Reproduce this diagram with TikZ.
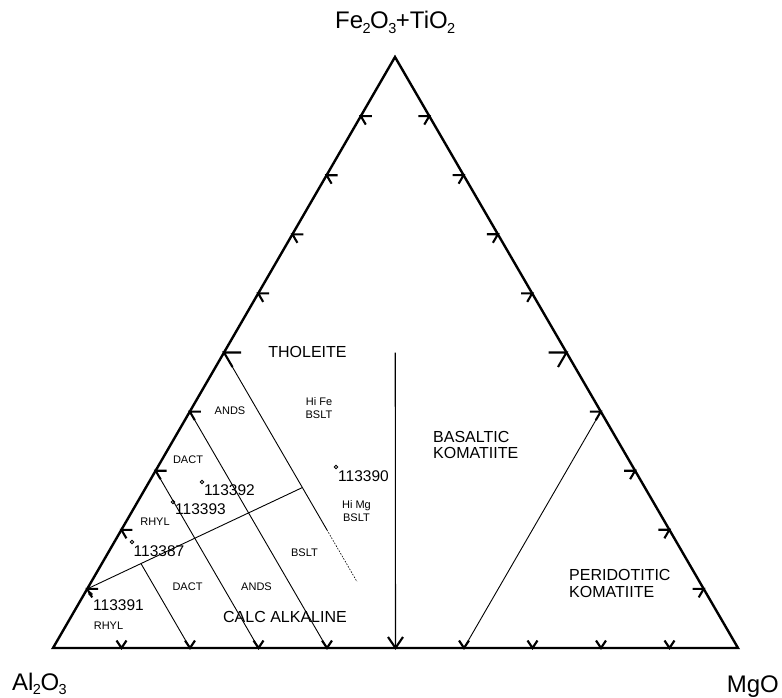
\documentclass[tikz,border=0pt]{standalone}
\usepackage{fontspec}
\setmainfont{Liberation Sans}
\usetikzlibrary{calc}
\newcommand{\chemsub}[1]{\kern-0.6pt\raisebox{-4.5pt}{\fontsize{14.5}{14.5}\selectfont #1}\kern-0.4pt}
\begin{document}
\begin{tikzpicture}[x=1pt,y=-1pt,
  edgeline/.style={line width=2.4pt,line join=miter},
  tickmark/.style={line width=2.1pt},
  thinline/.style={line width=0.9pt},
  small/.style={font=\fontsize{11}{12}\selectfont,inner sep=0pt,anchor=base},
  mid/.style={font=\fontsize{16}{17}\selectfont,inner sep=0pt},
  num/.style={font=\fontsize{15.5}{16}\selectfont,inner sep=0pt,anchor=base west},
  big/.style={font=\fontsize{24}{26}\selectfont,inner sep=0pt},
  pt/.style={circle,draw,line width=0.8pt,inner sep=0pt,minimum size=3.4pt}]
\useasboundingbox (0,0) rectangle (782,698);
\coordinate (L) at (53,648);
\coordinate (R) at (738,648);
\coordinate (T) at (395,57);
\draw[edgeline] (L) -- (R) -- (T) -- cycle;
\foreach \k in {1,...,9} {
  \coordinate (b\k) at ($(L)!\k/10!(R)$);
  \coordinate (l\k) at ($(L)!\k/10!(T)$);
  \coordinate (r\k) at ($(T)!\k/10!(R)$);
}
% ticks
\foreach \k in {1,2,3,4,6,7,8,9} {
  \draw[tickmark] ($(b\k)+(-5,-7.5)$) -- (b\k) -- ++(5,-7.5);
  \draw[tickmark] ($(l\k)+(11,0)$) -- (l\k) -- ++(5,8.5);
  \draw[tickmark] ($(r\k)+(-11,0)$) -- (r\k) -- ++(-5,8.5);
}
\draw[tickmark] ($(b5)+(-7.5,-11)$) -- (b5) -- ++(7.5,-11);
\draw[tickmark] ($(l5)+(17,0)$) -- (l5) -- ++(8.5,14.5);
\draw[tickmark] ($(r5)+(-18,0)$) -- (r5) -- ++(-8.5,14.5);
% field boundaries
\coordinate (c5) at ($(l5)!0.5!(r5)$);
\draw[thinline,line width=1.1pt] (c5) -- (b5);
\draw[thinline] (r6) -- (b6);
\coordinate (m3) at ($(l5)!0.6!(b5)$);
\coordinate (e3) at ($(l5)!0.776!(b5)$);
\draw[thinline] (l5) -- (m3);
\draw[line width=0.6pt,dash pattern=on 1.6pt off 1.4pt] (m3) -- (e3);
\draw[thinline] (l4) -- (b4);
\draw[thinline] (l3) -- (b3);
\coordinate (X) at ($(l5)!0.457!(b5)$);
\draw[thinline] (l1) -- (X);
\coordinate (Y) at (intersection of l2--b2 and l1--X);
\draw[thinline] (Y) -- (b2);
% apex labels
\node[big,anchor=base] (top) at (395,29) {Fe\chemsub{2}O\chemsub{3}+TiO\chemsub{2}};
\node[big,anchor=base west] (al) at (12,690) {Al\chemsub{2}O\chemsub{3}};
\node[big,anchor=base east] (mg) at (779,692) {MgO};
% field labels
\node[mid,anchor=base] (thol) at (307.5,357) {THOLEITE};
\node[small] (hife) at (319,405) {Hi Fe};
\node[small] (hifeb) at (319,418) {BSLT};
\node[small] (ands1) at (230,414) {ANDS};
\node[small] (dact1) at (188,463) {DACT};
\node[small] (rhyl1) at (155,525) {RHYL};
\node[small] (himg) at (356.5,508) {Hi Mg};
\node[small] (himgb) at (356.5,521) {BSLT};
\node[small] (bslt) at (304.5,556) {BSLT};
\node[small] (dact2) at (187.5,590) {DACT};
\node[small] (ands2) at (256.5,590) {ANDS};
\node[small] (rhyl2) at (108.5,629) {RHYL};
\node[mid,anchor=base] (calc) at (285,622) {CALC ALKALINE};
\node[mid,anchor=base west] (bas1) at (433,442) {BASALTIC};
\node[mid,anchor=base west] (bas2) at (433,458) {KOMATIITE};
\node[mid,anchor=base west] (per1) at (569,580) {PERIDOTITIC};
\node[mid,anchor=base west] (per2) at (569,597) {KOMATIITE};
% samples
\node[pt] (s92) at (202,482) {};
\node[num] (t92) at (204,495) {113392};
\node[pt] (s93) at (173,502) {};
\node[num] (t93) at (175,514) {113393};
\node[pt] (s90) at (336,467) {};
\node[num] (t90) at (338,481) {113390};
\node[pt] (s87) at (132,542) {};
\node[num] (t87) at (133.5,556) {113387};
\node[pt] (s91) at (90.5,594) {};
\node[num] (t91) at (93,610) {113391};
\end{tikzpicture}
\end{document}
